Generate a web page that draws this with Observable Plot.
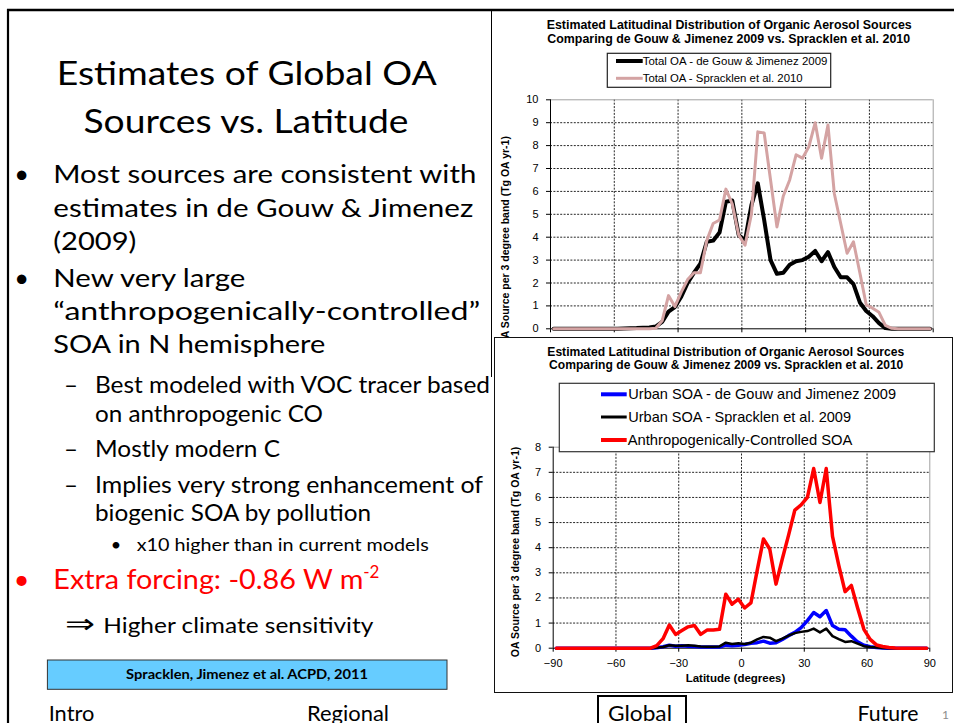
<!DOCTYPE html>
<html>
<head>
<meta charset="utf-8">
<script src="https://cdn.jsdelivr.net/npm/d3@7"></script>
<script src="https://cdn.jsdelivr.net/npm/@observablehq/plot@0.6"></script>
<style>
  html, body { margin: 0; padding: 0; background: #fff; }
  #slide { position: relative; width: 954px; height: 723px; overflow: hidden; background: #fff; }
  #slide > svg, #slide > div { position: absolute; }
  .deck text { font-family: Lato, "Open Sans", sans-serif; fill: #000; }
  .chartText text { font-family: "Liberation Sans", Arial, sans-serif; fill: #000; }
</style>
</head>
<body>
<div id="slide">
  <!-- slide frame, bullet text, citation and navigation -->
  <svg class="deck" width="954" height="723" style="left:0;top:0">
    <line x1="7" y1="10" x2="954" y2="10" stroke="#000" stroke-width="2.6"/>
    <line x1="8" y1="9" x2="8" y2="723" stroke="#000" stroke-width="2.2"/>

    <text x="246.7" y="85" font-size="32.5" text-anchor="middle" textLength="380" lengthAdjust="spacingAndGlyphs">Estimates of Global OA</text>
    <text x="246" y="133.3" font-size="32.5" text-anchor="middle" textLength="325" lengthAdjust="spacingAndGlyphs">Sources vs. Latitude</text>

    <text x="21.7" y="183" font-size="25.5" text-anchor="middle">•</text>
    <text x="53.3" y="183" font-size="25.5" textLength="423" lengthAdjust="spacingAndGlyphs">Most sources are consistent with</text>
    <text x="53.3" y="216.5" font-size="25.5" textLength="420" lengthAdjust="spacingAndGlyphs">estimates in de Gouw &amp; Jimenez</text>
    <text x="53.3" y="250" font-size="25.5" textLength="83" lengthAdjust="spacingAndGlyphs">(2009)</text>

    <text x="21.7" y="286.7" font-size="25.5" text-anchor="middle">•</text>
    <text x="53.3" y="286.7" font-size="25.5" textLength="192" lengthAdjust="spacingAndGlyphs">New very large</text>
    <text x="53.3" y="320" font-size="25.5" textLength="427" lengthAdjust="spacingAndGlyphs">“anthropogenically-controlled”</text>
    <text x="53.3" y="353.3" font-size="25.5" textLength="272" lengthAdjust="spacingAndGlyphs">SOA in N hemisphere</text>

    <text x="64" y="393.3" font-size="23" textLength="14" lengthAdjust="spacingAndGlyphs">–</text>
    <text x="95" y="393.3" font-size="23" textLength="395" lengthAdjust="spacingAndGlyphs">Best modeled with VOC tracer based</text>
    <text x="95" y="421.5" font-size="23" textLength="228" lengthAdjust="spacingAndGlyphs">on anthropogenic CO</text>
    <text x="64" y="457.3" font-size="23" textLength="14" lengthAdjust="spacingAndGlyphs">–</text>
    <text x="95" y="457.3" font-size="23" textLength="185" lengthAdjust="spacingAndGlyphs">Mostly modern C</text>
    <text x="64" y="493.3" font-size="23" textLength="14" lengthAdjust="spacingAndGlyphs">–</text>
    <text x="95" y="493.3" font-size="23" textLength="388" lengthAdjust="spacingAndGlyphs">Implies very strong enhancement of</text>
    <text x="95" y="521" font-size="23" textLength="276" lengthAdjust="spacingAndGlyphs">biogenic SOA by pollution</text>
    <text x="116" y="550.7" font-size="18" text-anchor="middle">•</text>
    <text x="136.7" y="550.7" font-size="18" textLength="292" lengthAdjust="spacingAndGlyphs">x10 higher than in current models</text>

    <text x="21.7" y="589.3" font-size="27" text-anchor="middle" style="fill:#ff0000">•</text>
    <text x="53.3" y="589.3" font-size="27" style="fill:#ff0000"><tspan textLength="310" lengthAdjust="spacingAndGlyphs">Extra forcing: -0.86 W m</tspan><tspan dy="-11" font-size="17">-2</tspan></text>

    <text x="65" y="633" font-size="27" textLength="30" lengthAdjust="spacingAndGlyphs" style="font-family:'DejaVu Sans',sans-serif">⇒</text>
    <text x="103.3" y="632.7" font-size="21.5" textLength="270" lengthAdjust="spacingAndGlyphs">Higher climate sensitivity</text>

    <rect x="47.4" y="660" width="399.6" height="29.3" fill="#66ccff" stroke="#333" stroke-width="1"/>
    <text x="247" y="679" font-size="12.5" font-weight="bold" text-anchor="middle" textLength="242" lengthAdjust="spacingAndGlyphs">Spracklen, Jimenez et al. ACPD, 2011</text>

    <text x="48.7" y="721" font-size="21.5" textLength="45.6" lengthAdjust="spacingAndGlyphs">Intro</text>
    <text x="307" y="721" font-size="21.5" textLength="82" lengthAdjust="spacingAndGlyphs">Regional</text>
    <rect x="598" y="696" width="88" height="40" fill="none" stroke="#000" stroke-width="2"/>
    <text x="608" y="721" font-size="21.5" textLength="64" lengthAdjust="spacingAndGlyphs">Global</text>
    <text x="857.6" y="721" font-size="21.5" textLength="61" lengthAdjust="spacingAndGlyphs">Future</text>
    <text x="942" y="719" font-size="12" style="fill:#8c8c8c">1</text>
  </svg>
  <div id="topChart"></div>
  <div style="left:491px;top:10px;width:1.3px;height:367px;background:#000"></div>
  <div style="left:494px;top:337px;width:459px;height:356px;box-sizing:border-box;border:1.5px solid #111;background:#fff"></div>
  <div id="bottomChart"></div>
  <!-- chart titles and legends -->
  <svg class="chartText" width="954" height="723" style="left:0;top:0;pointer-events:none">
    <text x="729.2" y="29" font-size="12.5" font-weight="bold" text-anchor="middle" textLength="365" lengthAdjust="spacingAndGlyphs">Estimated Latitudinal  Distribution of Organic Aerosol  Sources</text>
    <text x="728.7" y="43.3" font-size="12.5" font-weight="bold" text-anchor="middle" textLength="362.7" lengthAdjust="spacingAndGlyphs">Comparing de Gouw &amp; Jimenez  2009  vs.  Spracklen  et al. 2010</text>
    <rect x="607.3" y="53.3" width="223.4" height="34" fill="#fff" stroke="#222" stroke-width="1.2"/>
    <line x1="616" y1="61" x2="642.7" y2="61" stroke="#000" stroke-width="4"/>
    <text x="642.7" y="65" font-size="11.5" textLength="184.7" lengthAdjust="spacingAndGlyphs">Total OA - de Gouw &amp; Jimenez 2009</text>
    <line x1="616" y1="78.3" x2="642.7" y2="78.3" stroke="#d4a3a3" stroke-width="3"/>
    <text x="642.7" y="82.3" font-size="11.5" textLength="160" lengthAdjust="spacingAndGlyphs">Total OA - Spracklen et al. 2010</text>

    <text x="725.8" y="355.7" font-size="12.5" font-weight="bold" text-anchor="middle" textLength="357" lengthAdjust="spacingAndGlyphs">Estimated Latitudinal  Distribution of Organic Aerosol  Sources</text>
    <text x="726.2" y="369" font-size="12.5" font-weight="bold" text-anchor="middle" textLength="354.3" lengthAdjust="spacingAndGlyphs">Comparing de Gouw &amp; Jimenez  2009  vs.  Spracklen  et al. 2010</text>
    <rect x="559.3" y="383.3" width="375" height="68.4" fill="#fff" stroke="#333" stroke-width="1.2"/>
    <line x1="601" y1="394.3" x2="626.7" y2="394.3" stroke="#0000ff" stroke-width="4"/>
    <text x="628.3" y="399.3" font-size="15" textLength="267.7" lengthAdjust="spacingAndGlyphs">Urban SOA - de Gouw and Jimenez 2009</text>
    <line x1="601" y1="417" x2="626.7" y2="417" stroke="#000" stroke-width="3"/>
    <text x="628.3" y="422.3" font-size="15" textLength="222.7" lengthAdjust="spacingAndGlyphs">Urban SOA - Spracklen et al. 2009</text>
    <line x1="601" y1="440" x2="626.7" y2="440" stroke="#ff0000" stroke-width="4"/>
    <text x="627.7" y="445.3" font-size="15" textLength="224.7" lengthAdjust="spacingAndGlyphs">Anthropogenically-Controlled SOA</text>
  </svg>
</div>
<script>
// Latitude band centres (3 degree bands)
const lat = [-88.5,-85.5,-82.5,-79.5,-76.5,-73.5,-70.5,-67.5,-64.5,-61.5,-58.5,-55.5,-52.5,-49.5,-46.5,-43.5,-40.5,-37.5,-34.5,-31.5,-28.5,-25.5,-22.5,-19.5,-16.5,-13.5,-10.5,-7.5,-4.5,-1.5,1.5,4.5,7.5,10.5,13.5,16.5,19.5,22.5,25.5,28.5,31.5,34.5,37.5,40.5,43.5,46.5,49.5,52.5,55.5,58.5,61.5,64.5,67.5,70.5,73.5,76.5,79.5,82.5,85.5,88.5];

// Total OA source, Tg OA per year per 3 degree band
const totalOAdeGouw = [0,0,0,0,0,0,0,0,0,0,0,0.01,0.02,0.03,0.05,0.06,0.1,0.3,0.75,0.95,1.4,2.0,2.45,2.85,3.8,3.85,4.2,5.55,5.6,4.1,3.85,5.4,6.35,4.75,3.0,2.4,2.45,2.8,2.95,3.0,3.15,3.4,2.95,3.35,2.7,2.25,2.25,1.95,1.15,0.78,0.55,0.25,0.03,0,0,0,0,0,0,0];
const totalOASpracklen = [0,0,0,0,0,0,0,0,0,0,0,0,0,0,0,0,0.02,0.35,1.45,0.97,1.6,2.15,2.45,2.45,3.85,4.6,4.75,6.1,5.45,4.1,3.65,5.0,8.6,8.55,6.5,4.45,5.8,6.5,7.6,7.45,7.95,9.0,7.45,8.9,5.9,4.6,3.3,3.8,2.45,1.05,0.9,0.72,0.15,0.02,0,0,0,0,0,0];

// Urban and anthropogenically-controlled SOA source
const urbanSOAdeGouw = [0,0,0,0,0,0,0,0,0,0,0,0,0,0,0,0,0.02,0.06,0.12,0.08,0.1,0.08,0.07,0.05,0.05,0.05,0.05,0.12,0.1,0.12,0.15,0.2,0.22,0.28,0.2,0.22,0.35,0.5,0.63,0.82,1.1,1.42,1.25,1.5,0.9,0.75,0.73,0.48,0.25,0.12,0.06,0.03,0.01,0,0,0,0,0,0,0];
const urbanSOASpracklen = [0,0,0,0,0,0,0,0,0,0,0,0,0,0,0,0,0.02,0.05,0.12,0.1,0.1,0.12,0.1,0.07,0.06,0.06,0.07,0.22,0.17,0.2,0.17,0.22,0.35,0.45,0.42,0.28,0.38,0.5,0.6,0.65,0.68,0.78,0.63,0.78,0.48,0.36,0.25,0.28,0.18,0.08,0.05,0.03,0.01,0,0,0,0,0,0,0];
const anthroControlledSOA = [0,0,0,0,0,0,0,0,0,0,0,0,0,0,0,0,0.1,0.38,0.92,0.55,0.7,0.85,0.9,0.55,0.72,0.72,0.75,2.15,1.75,1.95,1.6,1.8,3.1,4.35,3.95,2.55,3.55,4.5,5.5,5.7,6.0,7.15,5.8,7.15,4.45,3.3,2.25,2.5,1.6,0.75,0.35,0.13,0.07,0.03,0.01,0,0,0,0,0];

// Axis ticks
const latTicks = [-90, -60, -30, 0, 30, 60, 90];
const topYTicks = [0, 1, 2, 3, 4, 5, 6, 7, 8, 9, 10];
const bottomYTicks = [0, 1, 2, 3, 4, 5, 6, 7, 8];
const yLabel = "OA Source per 3 degree band (Tg OA yr-1)";
const xLabel = "Latitude (degrees)";

const rows = (values) => lat.map((x, i) => ({lat: x, value: values[i]}));
const dash = "2,1.4";
const chartStyle = {
  fontFamily: "'Liberation Sans', Arial, sans-serif",
  fontSize: "11px",
  color: "#000",
  background: "transparent",
  overflow: "visible"
};

function place(svg, left, top) {
  svg.style.position = "absolute";
  svg.style.left = left + "px";
  svg.style.top = top + "px";
  svg.style.maxWidth = "none";
  return svg;
}

// Upper chart: total OA source by latitude (its latitude labels sit under the lower panel)
const topPlot = Plot.plot({
  width: 462,
  height: 367,
  marginLeft: 58,
  marginRight: 21.3,
  marginTop: 89.3,
  marginBottom: 48.7,
  style: chartStyle,
  x: {domain: [-90, 90]},
  y: {domain: [0, 10]},
  marks: [
    Plot.gridY(topYTicks.filter(d => d > 0 && d < 10), {stroke: "#000", strokeOpacity: 0.85, strokeDasharray: dash}),
    Plot.gridX(latTicks.filter(d => d > -90 && d < 90), {stroke: "#000", strokeOpacity: 0.85, strokeDasharray: dash}),
    Plot.ruleY([10], {stroke: "#a0a0a0"}),
    Plot.ruleX([90], {stroke: "#a0a0a0"}),
    Plot.axisY(topYTicks, {tickSize: 4, tickPadding: 8, label: null}),
    Plot.axisX(latTicks, {tickSize: 4, tickFormat: () => "", label: null}),
    Plot.ruleX([-90], {stroke: "#000"}),
    Plot.ruleY([0], {stroke: "#000"}),
    Plot.line(rows(totalOAdeGouw), {x: "lat", y: "value", stroke: "#000", strokeWidth: 4}),
    Plot.line(rows(totalOASpracklen), {x: "lat", y: "value", stroke: "#d4a3a3", strokeWidth: 3}),
    Plot.text([yLabel], {frameAnchor: "left", textAnchor: "middle", rotate: -90, dx: -45, dy: 27, fontWeight: "bold", fontSize: 10.5})
  ]
});
document.getElementById("topChart").replaceWith(place(topPlot, 492, 10));

// Lower chart: urban and anthropogenically-controlled SOA by latitude
const bottomPlot = Plot.plot({
  width: 459,
  height: 356,
  marginLeft: 58.7,
  marginRight: 23.7,
  marginTop: 109.7,
  marginBottom: 45.3,
  style: chartStyle,
  x: {domain: [-90, 90]},
  y: {domain: [0, 8]},
  marks: [
    Plot.gridY(bottomYTicks.filter(d => d > 0 && d < 8), {stroke: "#000", strokeOpacity: 0.85, strokeDasharray: dash}),
    Plot.gridX(latTicks.filter(d => d > -90 && d < 90), {stroke: "#000", strokeOpacity: 0.85, strokeDasharray: dash}),
    Plot.ruleY([8], {stroke: "#a0a0a0"}),
    Plot.ruleX([90], {stroke: "#a0a0a0"}),
    Plot.axisY(bottomYTicks, {tickSize: 4, tickPadding: 8, label: null}),
    Plot.axisX(latTicks, {tickSize: 4, tickPadding: 7, label: null}),
    Plot.ruleX([-90], {stroke: "#000"}),
    Plot.ruleY([0], {stroke: "#000"}),
    Plot.line(rows(urbanSOAdeGouw), {x: "lat", y: "value", stroke: "#0000ff", strokeWidth: 3.5}),
    Plot.line(rows(urbanSOASpracklen), {x: "lat", y: "value", stroke: "#000", strokeWidth: 2.5}),
    Plot.line(rows(anthroControlledSOA), {x: "lat", y: "value", stroke: "#ff0000", strokeWidth: 3.5}),
    Plot.text([yLabel], {frameAnchor: "left", textAnchor: "middle", rotate: -90, dx: -37.7, dy: 4.3, fontWeight: "bold", fontSize: 10.5}),
    Plot.text([xLabel], {frameAnchor: "bottom", lineAnchor: "middle", dy: 30, dx: -6, fontWeight: "bold", fontSize: 11.5})
  ]
});
document.getElementById("bottomChart").replaceWith(place(bottomPlot, 494, 337));
</script>
</body>
</html>
